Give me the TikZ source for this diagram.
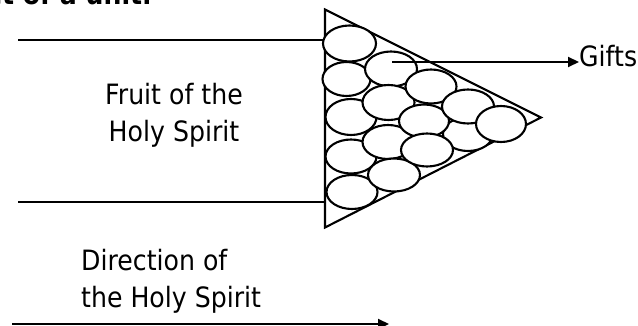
\documentclass[tikz,border=0pt]{standalone}
\usepackage{fontspec}
\setmainfont{DejaVu Sans}[FakeStretch=0.9]
\usetikzlibrary{arrows.meta}
\tikzset{
  lbl/.style={inner sep=0pt, font=\fontsize{28}{34}\selectfont, text=black},
  grain/.style={draw=black, fill=white, line width=2.1pt},
  wire/.style={draw=black, line width=2.1pt},
  arr/.style={wire, -{Triangle[length=11pt, width=10pt]}},
}
\begin{document}
\begin{tikzpicture}[x=1pt, y=-1pt]
\useasboundingbox (0,0) rectangle (638,326);
\clip (0,0) rectangle (638,326);
\fill[white] (0,0) rectangle (638,326);

% clipped heading fragment at the top
\node[lbl, anchor=base east, font=\fontsize{28}{34}\selectfont\bfseries] (head) at (152,5) {ct of a unit.};

% triangle
\coordinate (T1) at (325,9.5);
\coordinate (T2) at (325,227.5);
\coordinate (T3) at (541,117.5);
\draw[wire, line join=miter] (T1) -- (T3) -- (T2) -- cycle;

% horizontal lines to the triangle
\coordinate (la) at (18,40);
\coordinate (lb) at (18,202);
\draw[wire] (la) -- (la -| T1);
\draw[wire] (lb) -- (lb -| T1);

% ellipses (hidden one first, then columns left to right)
\draw[grain] (468,134) ellipse (25 and 17);
\draw[grain] (349.5,43.5) ellipse (26.5 and 18);
\draw[grain] (346.5,79) ellipse (24 and 17);
\draw[grain] (351,117) ellipse (25.5 and 18);
\draw[grain] (351,156.5) ellipse (25.5 and 17);
\draw[grain] (352,192) ellipse (25.5 and 17);
\draw[grain] (391,69) ellipse (26 and 17.5);
\draw[grain] (388.5,102.5) ellipse (26 and 17.5);
\draw[grain] (388,142) ellipse (25.5 and 17);
\draw[grain] (394,175) ellipse (26 and 16.5);
\draw[grain] (431,86.5) ellipse (25.5 and 17);
\draw[grain] (424,121) ellipse (25 and 16.5);
\draw[grain] (427,150) ellipse (26 and 16.5);
\draw[grain] (468,106.5) ellipse (26 and 17);
\draw[grain] (501,124) ellipse (25 and 18);

% Gifts
\node[lbl, anchor=base west] (gifts) at (579,67) {Gifts};
\coordinate (gstart) at (392,62);
\draw[arr] (gstart) -- (gstart -| gifts.west);

% Fruit label
\node[lbl, anchor=base] (fruit1) at (174,105) {Fruit of the};
\node[lbl, anchor=base] (fruit2) at (174,142) {Holy Spirit};

% Direction label
\node[lbl, anchor=base west] (dir1) at (81,270) {Direction of};
\node[lbl, anchor=base west] (dir2) at (81,307) {the Holy Spirit};

% bottom arrow
\coordinate (da) at (12,324);
\coordinate (db) at (389,324);
\draw[arr] (da) -- (db);
\end{tikzpicture}
\end{document}
